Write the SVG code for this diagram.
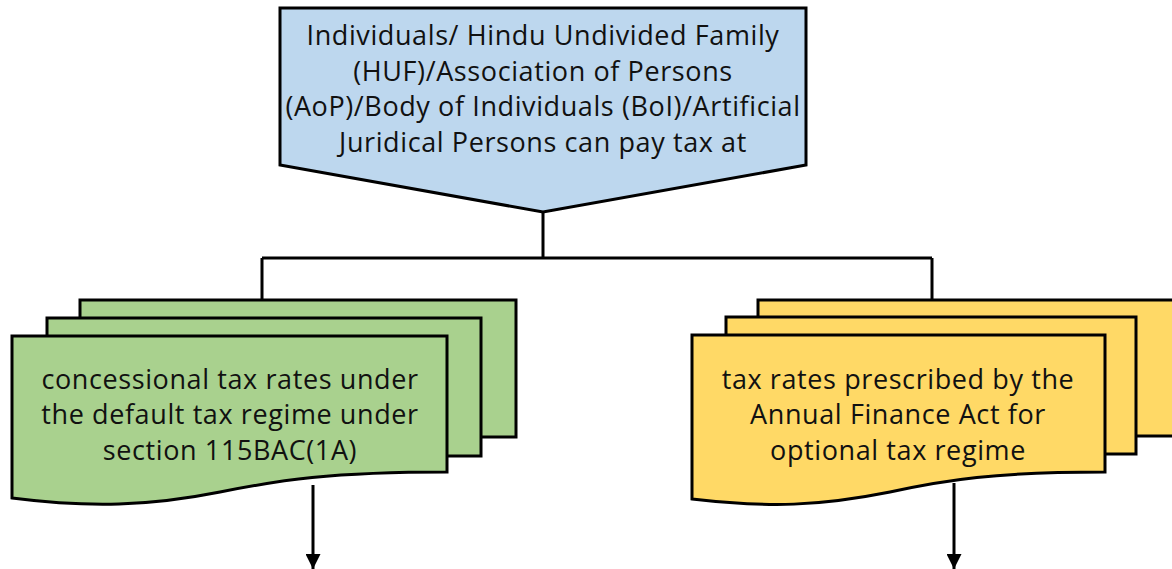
<svg xmlns="http://www.w3.org/2000/svg" width="1172" height="569" viewBox="0 0 1172 569">
<style>
.s{stroke:#000;stroke-width:3;stroke-linejoin:miter}
.b{fill:#BDD7EE}.g{fill:#A9D18E}.y{fill:#FFD966}
.t{font-family:"Open Sans","Liberation Sans",sans-serif;font-size:27px;letter-spacing:0.6px;fill:#111;text-anchor:middle}
.c{fill:none;stroke:#000;stroke-width:3}
</style>
<defs>
<marker id="ah" viewBox="0 0 10 10" refX="10" refY="5" markerWidth="5" markerHeight="5" orient="auto" markerUnits="strokeWidth">
<path d="M0,0L10,5L0,10z" fill="#000"/>
</marker>
</defs>
<g id="connectors">
<path class="c" d="M543,212V258M262,258H932M262,258V300M932,258V300"/>
<path class="c" d="M313,485V569" marker-end="url(#ah)"/>
<path class="c" d="M954,483V569" marker-end="url(#ah)"/>
</g>
<g id="top">
<path class="s b" d="M280,8H806V165L543,212L280,165Z"/>
<text class="t" x="543" y="45">Individuals/ Hindu Undivided Family</text>
<text class="t" x="543" y="81">(HUF)/Association of Persons</text>
<text class="t" x="543" y="116">(AoP)/Body of Individuals (BoI)/Artificial</text>
<text class="t" x="543" y="152">Juridical Persons can pay tax at</text>
</g>
<g id="left">
<rect class="s g" x="80" y="300" width="436" height="137"/>
<rect class="s g" x="47" y="318" width="434" height="138"/>
<path class="s g" d="M12,336H447V472C330,472 280,480 220,492C150,506 90,508 12,498Z"/>
<text class="t" x="230" y="389">concessional tax rates under</text>
<text class="t" x="230" y="424">the default tax regime under</text>
<text class="t" x="230" y="460">section 115BAC(1A)</text>
</g>
<g id="right">
<rect class="s y" x="758" y="300" width="420" height="136"/>
<rect class="s y" x="726" y="317" width="410" height="137"/>
<path class="s y" d="M692,335H1105V472C995,472 945,480 890,492C820,506 770,508 692,499Z"/>
<text class="t" x="898" y="389">tax rates prescribed by the</text>
<text class="t" x="898" y="424">Annual Finance Act for</text>
<text class="t" x="898" y="460">optional tax regime</text>
</g>
</svg>
